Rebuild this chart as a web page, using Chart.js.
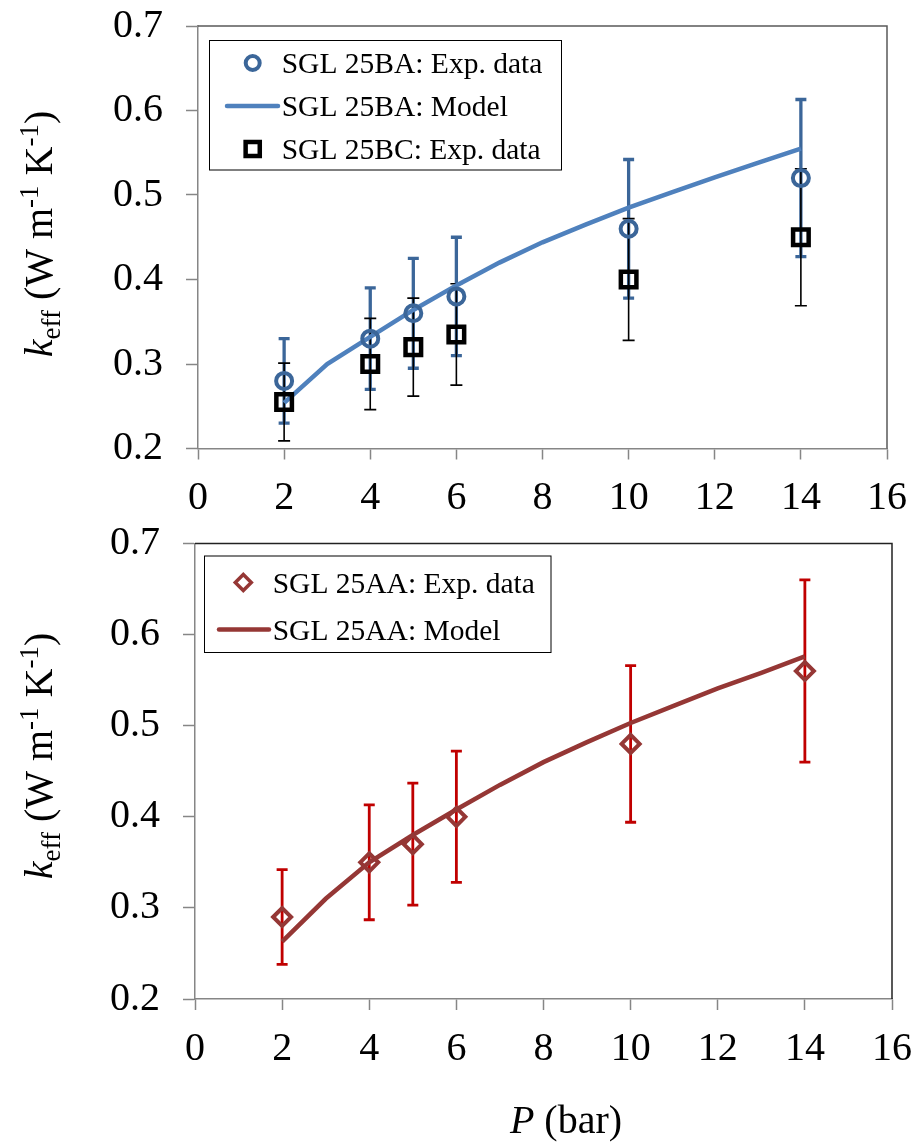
<!DOCTYPE html>
<html>
<head>
<meta charset="utf-8">
<script src="https://cdn.jsdelivr.net/npm/chart.js@4.4.0/dist/chart.umd.min.js"></script>
<style>
  body { margin: 0; background: #fff; }
  canvas { position: absolute; left: 0; }
  #topChart { top: 0; }
  #bottomChart { top: 517px; }
</style>
</head>
<body>
<canvas id="topChart" width="917" height="520"></canvas>
<canvas id="bottomChart" width="917" height="628"></canvas>
<script>
// values
const pressure = [2, 4, 5, 6, 10, 14];
const ba_exp = [0.28, 0.33, 0.36, 0.38, 0.46, 0.52];
const ba_err = [0.05, 0.06, 0.065, 0.07, 0.082, 0.093];
const bc_exp = [0.255, 0.30, 0.32, 0.335, 0.40, 0.45];
const bc_err = [0.046, 0.054, 0.058, 0.06, 0.072, 0.081];
const modelP = [2, 3, 4, 5, 6, 7, 8, 9, 10, 11, 12, 13, 14];
const ba_model = [0.254, 0.30, 0.332, 0.364, 0.393, 0.42, 0.444, 0.465, 0.485, 0.503, 0.521, 0.538, 0.555];
const aa_exp = [0.29, 0.35, 0.37, 0.40, 0.48, 0.56];
const aa_err = [0.052, 0.063, 0.067, 0.072, 0.086, 0.10];
const aa_model = [0.263, 0.31, 0.35, 0.38, 0.408, 0.435, 0.46, 0.482, 0.503, 0.522, 0.541, 0.558, 0.576];
const xTicks = [0, 2, 4, 6, 8, 10, 12, 14, 16];
const yTicks = [0.2, 0.3, 0.4, 0.5, 0.6, 0.7];

const SERIF = '"Liberation Serif", "Times New Roman", serif';

function pts(xs, ys) {
	return xs.map((x, i) => ({ x: x, y: ys[i] }));
}

// vertical error bars, drawn under the markers
const errorBars = {
	id: 'errorBars',
	beforeDatasetsDraw(chart) {
		const { ctx, scales: { x, y } } = chart;
		chart.data.datasets.forEach(ds => {
			if (!ds.errors) return;
			ctx.save();
			ctx.strokeStyle = ds.errorColor;
			ctx.lineWidth = ds.errorWidth;
			ds.data.forEach((p, i) => {
				const px = x.getPixelForValue(p.x);
				const top = y.getPixelForValue(p.y + ds.errors[i]);
				const bot = y.getPixelForValue(p.y - ds.errors[i]);
				ctx.beginPath();
				ctx.moveTo(px, top);
				ctx.lineTo(px, bot);
				ctx.moveTo(px - ds.errorCap, top);
				ctx.lineTo(px + ds.errorCap, top);
				ctx.moveTo(px - ds.errorCap, bot);
				ctx.lineTo(px + ds.errorCap, bot);
				ctx.stroke();
			});
			ctx.restore();
		});
	}
};

// top and right edges of the plot area
const frame = {
	id: 'frame',
	beforeDatasetsDraw(chart, args, opts) {
		const { ctx, chartArea: a } = chart;
		ctx.save();
		ctx.strokeStyle = opts.color;
		ctx.lineWidth = 1.5;
		ctx.beginPath();
		ctx.moveTo(a.left, a.top);
		ctx.lineTo(a.right, a.top);
		ctx.lineTo(a.right, a.bottom);
		ctx.stroke();
		ctx.restore();
	}
};

// boxed legend inside the plot
const boxLegend = {
	id: 'boxLegend',
	afterDraw(chart, args, opts) {
		const ctx = chart.ctx;
		ctx.save();
		ctx.strokeStyle = '#000';
		ctx.lineWidth = 1;
		ctx.strokeRect(opts.left, opts.top, opts.width, opts.height);
		ctx.font = opts.fontSize + 'px ' + SERIF;
		ctx.textBaseline = 'alphabetic';
		ctx.textAlign = 'left';
		chart.data.datasets.forEach((ds, i) => {
			const cy = opts.rows[i];
			if (ds.showLine) {
				ctx.strokeStyle = ds.borderColor;
				ctx.lineWidth = ds.borderWidth;
				ctx.lineCap = 'round';
				ctx.beginPath();
				ctx.moveTo(opts.lineFrom, cy);
				ctx.lineTo(opts.lineTo, cy);
				ctx.stroke();
			} else {
				ctx.strokeStyle = ds.pointBorderColor;
				ctx.fillStyle = 'rgba(0,0,0,0)';
				ctx.lineWidth = opts.markerWidth[i];
				Chart.helpers.drawPoint(ctx, {
					pointStyle: ds.pointStyle,
					radius: opts.markerRadius[i],
					borderWidth: opts.markerWidth[i],
					rotation: 0
				}, opts.markerX, cy);
			}
			ctx.fillStyle = '#000';
			ctx.fillText(ds.label, opts.textX, cy + 10);
		});
		ctx.restore();
	}
};

// axis titles with italic symbols, sub- and superscripts
function drawParts(ctx, parts, size) {
	let w = 0;
	parts.forEach(p => {
		ctx.font = (p.italic ? 'italic ' : '') + Math.round(size * (p.scale || 1)) + 'px ' + SERIF;
		p.w = ctx.measureText(p.t).width;
		w += p.w;
	});
	let x = -w / 2;
	parts.forEach(p => {
		ctx.font = (p.italic ? 'italic ' : '') + Math.round(size * (p.scale || 1)) + 'px ' + SERIF;
		ctx.fillText(p.t, x, p.dy || 0);
		x += p.w;
	});
}

const axisTitles = {
	id: 'axisTitles',
	afterDraw(chart, args, opts) {
		const ctx = chart.ctx;
		ctx.save();
		ctx.fillStyle = '#000';
		ctx.textBaseline = 'alphabetic';
		ctx.textAlign = 'left';
		ctx.save();
		ctx.translate(opts.yTitleX, opts.yTitleY);
		ctx.rotate(-Math.PI / 2);
		drawParts(ctx, [
			{ t: 'k', italic: true },
			{ t: 'eff', scale: 0.68, dy: 8 },
			{ t: ' (W m' },
			{ t: '-1', scale: 0.68, dy: -14 },
			{ t: ' K' },
			{ t: '-1', scale: 0.68, dy: -14 },
			{ t: ')' }
		], 40);
		ctx.restore();
		if (opts.xTitle) {
			ctx.translate(opts.xTitleX, opts.xTitleY);
			drawParts(ctx, [
				{ t: 'P', italic: true },
				{ t: ' (bar)' }
			], 40);
		}
		ctx.restore();
	}
};

function scalesFor(yWidth, xHeight) {
	const axisGray = '#868686';
	return {
		x: {
			type: 'linear',
			min: 0,
			max: 16,
			afterBuildTicks: s => { s.ticks = xTicks.map(v => ({ value: v })); },
			afterFit: s => { s.height = xHeight; s.paddingLeft = 0; s.paddingRight = 0; },
			grid: { drawOnChartArea: false, tickLength: 11, tickColor: axisGray, tickWidth: 1.5 },
			border: { color: axisGray, width: 1.5 },
			ticks: { font: { family: SERIF, size: 40 }, color: '#000', padding: 15, maxRotation: 0 }
		},
		y: {
			min: 0.2,
			max: 0.7,
			afterBuildTicks: s => { s.ticks = yTicks.map(v => ({ value: v })); },
			afterFit: s => { s.width = yWidth; s.paddingTop = 0; s.paddingBottom = 0; },
			grid: { drawOnChartArea: false, tickLength: 12, tickColor: axisGray, tickWidth: 1.5 },
			border: { color: axisGray, width: 1.5 },
			ticks: { font: { family: SERIF, size: 40 }, color: '#000', padding: 23, callback: v => v.toFixed(1) }
		}
	};
}

const common = {
	responsive: false,
	animation: false,
	events: []
};

new Chart(document.getElementById('topChart'), {
	type: 'scatter',
	data: {
		datasets: [
			{
				label: 'SGL 25BA: Exp. data',
				data: pts(pressure, ba_exp),
				pointStyle: 'circle',
				pointRadius: 8,
				pointBorderWidth: 4,
				pointBorderColor: '#3B6699',
				pointBackgroundColor: 'rgba(0,0,0,0)',
				showLine: false,
				errors: ba_err,
				errorColor: '#3B6699',
				errorWidth: 3.3,
				errorCap: 5.5,
				order: 2
			},
			{
				label: 'SGL 25BA: Model',
				data: pts(modelP, ba_model),
				showLine: true,
				borderColor: '#4F81BD',
				borderWidth: 4.5,
				pointRadius: 0,
				tension: 0,
				order: 3
			},
			{
				label: 'SGL 25BC: Exp. data',
				data: pts(pressure, bc_exp),
				pointStyle: 'rect',
				pointRadius: 11,
				pointBorderWidth: 4.5,
				pointBorderColor: '#000',
				pointBackgroundColor: 'rgba(0,0,0,0)',
				showLine: false,
				errors: bc_err,
				errorColor: '#000',
				errorWidth: 1.6,
				errorCap: 6,
				order: 1
			}
		]
	},
	options: Object.assign({}, common, {
		layout: { padding: { top: 26, right: 30, left: 0, bottom: 0 } },
		scales: scalesFor(198, 71.5),
		plugins: {
			legend: { display: false },
			tooltip: { enabled: false },
			frame: { color: '#5a5a5a' },
			boxLegend: {
				left: 209.5, top: 40.5, width: 352, height: 129.5,
				rows: [63, 106, 149], fontSize: 29.5,
				markerX: 252.7, lineFrom: 227, lineTo: 278, textX: 281.7,
				markerRadius: [7, 0, 10], markerWidth: [4, 0, 4.5]
			},
			axisTitles: { yTitleX: 52, yTitleY: 234 }
		}
	}),
	plugins: [errorBars, frame, boxLegend, axisTitles]
});

new Chart(document.getElementById('bottomChart'), {
	type: 'scatter',
	data: {
		datasets: [
			{
				label: 'SGL 25AA: Exp. data',
				data: pts(pressure, aa_exp),
				pointStyle: 'rectRot',
				pointRadius: 9,
				pointBorderWidth: 4,
				pointBorderColor: '#953735',
				pointBackgroundColor: 'rgba(0,0,0,0)',
				showLine: false,
				errors: aa_err,
				errorColor: '#C00000',
				errorWidth: 2.8,
				errorCap: 5.5,
				order: 1
			},
			{
				label: 'SGL 25AA: Model',
				data: pts(modelP, aa_model),
				showLine: true,
				borderColor: '#953735',
				borderWidth: 4.5,
				pointRadius: 0,
				tension: 0,
				order: 2
			}
		]
	},
	options: Object.assign({}, common, {
		layout: { padding: { top: 26.5, right: 25, left: 0, bottom: 0 } },
		scales: scalesFor(195, 146),
		plugins: {
			legend: { display: false },
			tooltip: { enabled: false },
			frame: { color: '#222' },
			boxLegend: {
				left: 204.5, top: 39, width: 346.5, height: 96.5,
				rows: [65.5, 112.5], fontSize: 29.5,
				markerX: 243.3, lineFrom: 219, lineTo: 269, textX: 272.7,
				markerRadius: [8, 0], markerWidth: [3.5, 0]
			},
			axisTitles: { yTitleX: 52, yTitleY: 239, xTitle: true, xTitleX: 566, xTitleY: 616 }
		}
	}),
	plugins: [errorBars, frame, boxLegend, axisTitles]
});
</script>
</body>
</html>
